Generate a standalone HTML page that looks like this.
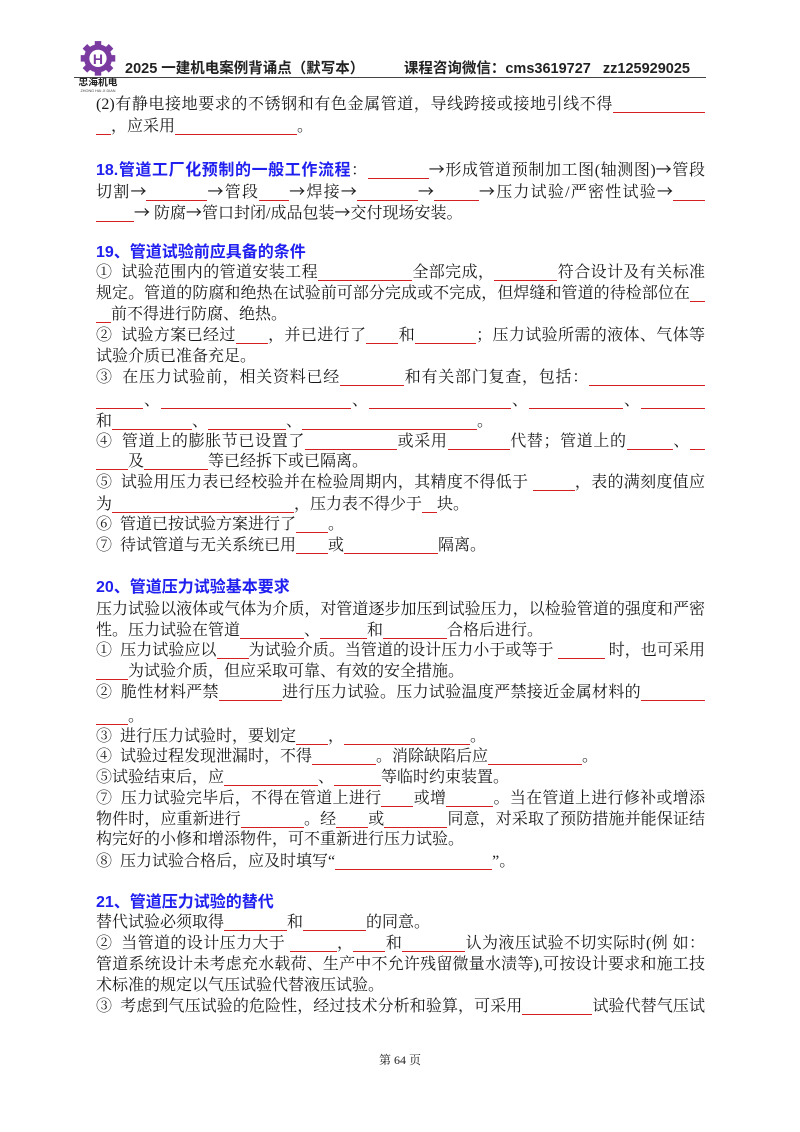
<!DOCTYPE html>
<html><head><meta charset="utf-8">
<style>
html,body{margin:0;padding:0;background:#fff;}
body{width:800px;height:1132px;position:relative;overflow:hidden;font-family:"Liberation Serif","Noto Serif CJK SC",serif;color:#1a1a1a;}
.l{position:absolute;left:96px;width:609px;height:22px;line-height:22px;font-size:16px;white-space:nowrap;}
.j{text-align:justify;text-align-last:justify;}
.t{font-family:"Liberation Sans","Noto Sans CJK SC",sans-serif;font-weight:bold;color:#1f1fef;}
.b{display:inline-block;height:17px;vertical-align:-4px;border-bottom:1.5px solid #d42020;}
.a{font-family:"Noto Sans CJK SC",sans-serif;}
.h{position:absolute;top:57px;font-family:"Liberation Sans","Noto Sans CJK SC",sans-serif;font-weight:bold;font-size:14.5px;color:#222;white-space:nowrap;}
</style></head><body>
<svg style="position:absolute;left:76px;top:40px" width="44" height="54" viewBox="0 0 40 50">
<g fill="#7a3aa0"><circle cx="20" cy="17" r="13"/>
<rect x="17" y="1" width="6" height="6"/><rect x="17" y="27" width="6" height="6"/><rect x="4" y="14" width="6" height="6"/><rect x="30" y="14" width="6" height="6"/>
<rect x="7" y="5" width="6" height="6" transform="rotate(45 10 8)"/><rect x="27" y="5" width="6" height="6" transform="rotate(45 30 8)"/><rect x="7" y="23" width="6" height="6" transform="rotate(45 10 26)"/><rect x="27" y="23" width="6" height="6" transform="rotate(45 30 26)"/></g>
<circle cx="20" cy="17" r="8" fill="#fff"/>
<text x="20" y="22" font-size="13" font-weight="bold" text-anchor="middle" fill="#7a3aa0" font-family="Liberation Sans,sans-serif">H</text>
<text x="20" y="42" font-size="9" font-weight="bold" text-anchor="middle" fill="#222" font-family="Noto Sans CJK SC,sans-serif">忠海机电</text>
<text x="20" y="48" font-size="3.5" text-anchor="middle" fill="#444" font-family="Liberation Sans,sans-serif">ZHONG HAI JI DIAN</text>
</svg>
<div class="h" style="left:125px">2025 一建机电案例背诵点（默写本）</div>
<div class="h" style="left:356px;width:334px;text-align:right">课程咨询微信：cms3619727&nbsp;&nbsp; zz125929025</div>
<div style="position:absolute;left:74px;top:77px;width:632px;height:1px;background:#444"></div>

<div class="l j" style="top:94px">(2)有静电接地要求的不锈钢和有色金属管道，导线跨接或接地引线不得<span class="b" style="width:92px"></span></div>
<div class="l" style="top:116px"><span class="b" style="width:15px"></span>，应采用<span class="b" style="width:122px"></span>。</div>

<div class="l j" style="top:157px"><span class="t">18.管道工厂化预制的一般工作流程</span>：<span class="b" style="width:61px"></span><span class="a">→</span>形成管道预制加工图(轴测图)<span class="a">→</span>管段</div>
<div class="l j" style="top:179px">切割<span class="a">→</span><span class="b" style="width:61px"></span><span class="a">→</span>管段<span class="b" style="width:30px"></span><span class="a">→</span>焊接<span class="a">→</span><span class="b" style="width:61px"></span><span class="a">→</span><span class="b" style="width:45px"></span><span class="a">→</span>压力试验/严密性试验<span class="a">→</span><span class="b" style="width:32px"></span></div>
<div class="l" style="top:200px"><span class="b" style="width:38px"></span><span class="a">→</span> 防腐<span class="a">→</span>管口封闭/成品包装<span class="a">→</span>交付现场安装。</div>

<div class="l t" style="top:242px">19、管道试验前应具备的条件</div>
<div class="l j" style="top:262px">①&nbsp; 试验范围内的管道安装工程<span class="b" style="width:94px"></span>全部完成，<span class="b" style="width:63px"></span>符合设计及有关标准</div>
<div class="l j" style="top:283px">规定。管道的防腐和绝热在试验前可部分完成或不完成，但焊缝和管道的待检部位在<span class="b" style="width:15px"></span></div>
<div class="l" style="top:304px"><span class="b" style="width:15px"></span>前不得进行防腐、绝热。</div>
<div class="l j" style="top:325px">②&nbsp; 试验方案已经过<span class="b" style="width:32px"></span>，并已进行了<span class="b" style="width:32px"></span>和<span class="b" style="width:61px"></span>；压力试验所需的液体、气体等</div>
<div class="l" style="top:346px">试验介质已准备充足。</div>
<div class="l j" style="top:367px">③&nbsp; 在压力试验前，相关资料已经<span class="b" style="width:64px"></span>和有关部门复查，包括：<span class="b" style="width:116px"></span></div>
<div class="l j" style="top:390px"><span class="b" style="width:47px"></span>、<span class="b" style="width:190px"></span>、<span class="b" style="width:142px"></span>、<span class="b" style="width:94px"></span>、<span class="b" style="width:64px"></span></div>
<div class="l" style="top:411px">和<span class="b" style="width:80px"></span>、<span class="b" style="width:78px"></span>、<span class="b" style="width:175px"></span>。</div>
<div class="l j" style="top:431px">④&nbsp; 管道上的膨胀节已设置了<span class="b" style="width:92px"></span>或采用<span class="b" style="width:62px"></span>代替；管道上的<span class="b" style="width:46px"></span>、<span class="b" style="width:15px"></span></div>
<div class="l" style="top:451px"><span class="b" style="width:32px"></span>及<span class="b" style="width:64px"></span>等已经拆下或已隔离。</div>
<div class="l j" style="top:472px">⑤&nbsp; 试验用压力表已经校验并在检验周期内，其精度不得低于 <span class="b" style="width:42px"></span>，表的满刻度值应</div>
<div class="l" style="top:494px">为<span class="b" style="width:182px"></span>，压力表不得少于<span class="b" style="width:15px"></span>块。</div>
<div class="l" style="top:514px">⑥&nbsp; 管道已按试验方案进行了<span class="b" style="width:32px"></span>。</div>
<div class="l" style="top:535px">⑦&nbsp; 待试管道与无关系统已用<span class="b" style="width:32px"></span>或<span class="b" style="width:94px"></span>隔离。</div>

<div class="l t" style="top:577px">20、管道压力试验基本要求</div>
<div class="l j" style="top:599px">压力试验以液体或气体为介质，对管道逐步加压到试验压力，以检验管道的强度和严密</div>
<div class="l" style="top:620px">性。压力试验在管道<span class="b" style="width:64px"></span>、<span class="b" style="width:47px"></span>和<span class="b" style="width:64px"></span>合格后进行。</div>
<div class="l j" style="top:640px">①&nbsp; 压力试验应以<span class="b" style="width:32px"></span>为试验介质。当管道的设计压力小于或等于 <span class="b" style="width:47px"></span> 时，也可采用</div>
<div class="l" style="top:661px"><span class="b" style="width:32px"></span>为试验介质，但应采取可靠、有效的安全措施。</div>
<div class="l j" style="top:682px">②&nbsp; 脆性材料严禁<span class="b" style="width:63px"></span>进行压力试验。压力试验温度严禁接近金属材料的<span class="b" style="width:64px"></span></div>
<div class="l" style="top:706px"><span class="b" style="width:32px"></span>。</div>
<div class="l" style="top:726px">③&nbsp; 进行压力试验时，要划定<span class="b" style="width:32px"></span>，<span class="b" style="width:126px"></span>。</div>
<div class="l" style="top:746px">④&nbsp; 试验过程发现泄漏时，不得<span class="b" style="width:64px"></span>。消除缺陷后应<span class="b" style="width:94px"></span>。</div>
<div class="l" style="top:767px">⑤试验结束后，应<span class="b" style="width:94px"></span>、<span class="b" style="width:47px"></span>等临时约束装置。</div>
<div class="l j" style="top:788px">⑦&nbsp; 压力试验完毕后，不得在管道上进行<span class="b" style="width:32px"></span>或增<span class="b" style="width:47px"></span>。当在管道上进行修补或增添</div>
<div class="l j" style="top:809px">物件时，应重新进行<span class="b" style="width:63px"></span>。经<span class="b" style="width:32px"></span>或<span class="b" style="width:63px"></span>同意，对采取了预防措施并能保证结</div>
<div class="l" style="top:829px">构完好的小修和增添物件，可不重新进行压力试验。</div>
<div class="l" style="top:851px">⑧&nbsp; 压力试验合格后，应及时填写“<span class="b" style="width:157px"></span>”。</div>

<div class="l t" style="top:892px">21、管道压力试验的替代</div>
<div class="l" style="top:912px">替代试验必须取得<span class="b" style="width:63px"></span>和<span class="b" style="width:63px"></span>的同意。</div>
<div class="l j" style="top:933px">②&nbsp; 当管道的设计压力大于 <span class="b" style="width:47px"></span>，<span class="b" style="width:32px"></span>和<span class="b" style="width:63px"></span>认为液压试验不切实际时(例 如：</div>
<div class="l j" style="top:954px">管道系统设计未考虑充水载荷、生产中不允许残留微量水渍等),可按设计要求和施工技</div>
<div class="l" style="top:975px">术标准的规定以气压试验代替液压试验。</div>
<div class="l j" style="top:996px">③&nbsp; 考虑到气压试验的危险性，经过技术分析和验算，可采用<span class="b" style="width:70px"></span>试验代替气压试</div>

<div style="position:absolute;left:0;width:800px;top:1051px;text-align:center;font-size:12px;font-family:'Liberation Serif','Noto Serif CJK SC',serif;color:#222">第 64 页</div>
</body></html>
